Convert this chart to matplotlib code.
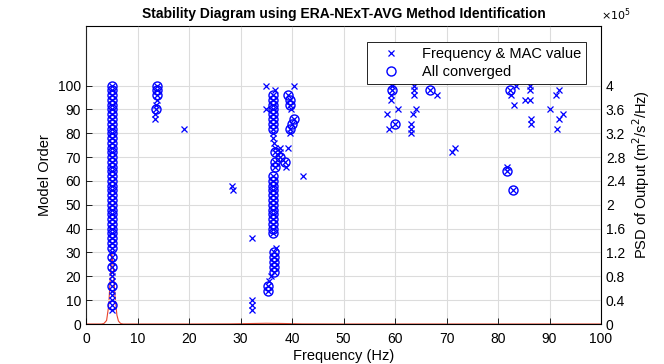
import numpy as np
import matplotlib
matplotlib.use('Agg')
import matplotlib.pyplot as plt
from matplotlib.ticker import FuncFormatter

plt.rcParams['font.family'] = ['Liberation Sans', 'DejaVu Sans']

# stabilisation points (frequency in Hz, model order) - all poles
freq_all = [
    # ~5 Hz mode
    5.1, 5.1, 5.0, 5.0, 5.0, 5.0, 5.0, 5.0, 5.0, 5.0, 5.0, 5.0, 5.0, 5.0, 5.0, 5.0,
    5.0, 5.0, 5.0, 5.0, 5.0, 5.0, 5.0, 5.0, 5.0, 5.0, 5.0, 5.0, 5.0, 5.0, 5.0, 5.0,
    5.0, 5.0, 5.0, 5.0, 5.0, 5.0, 5.0, 5.0, 5.0, 5.0, 5.0, 5.0, 5.0, 5.0, 5.0, 5.0,
    # ~13.6 Hz
    13.8, 13.8, 13.7, 13.7, 13.6, 13.5, 13.4, 13.4,
    # scattered
    19.0, 28.3, 28.5, 32.3, 32.3, 32.3, 32.3, 35.0, 34.9,
    # ~36.5 Hz column
    35.4, 35.4, 35.6, 35.9, 36.6, 36.6, 36.6, 36.6, 36.6, 36.9,
    36.4, 36.4, 36.4, 36.4, 36.4, 36.4, 36.4, 36.4, 36.4, 36.4, 36.4, 36.4, 36.4,
    36.7, 36.7, 36.7, 36.7, 36.6, 36.4, 36.4,
    36.4, 36.4, 36.4, 36.4, 36.4, 36.4, 36.4, 36.4, 36.7,
    37.7, 38.6, 37.7, 39.3, 38.8, 37.7,
    # ~39.5 Hz column
    39.3, 39.6, 39.6, 39.9, 40.3, 40.0, 39.6, 39.7, 40.3, 42.2,
    # 58-72 Hz
    59.4, 59.5, 59.3, 59.3, 63.7, 63.7, 63.7, 66.8, 68.1,
    58.5, 60.6, 64.1, 63.4, 60.0, 58.9, 63.1, 63.1, 63.1, 71.0, 71.7,
    # 80-93 Hz
    82.3, 82.6, 83.5, 83.1, 86.3, 86.3, 85.2, 86.2, 86.5, 86.5, 90.1,
    91.3, 91.8, 92.6, 91.9, 91.4, 81.8, 81.8, 82.9,
]
order_all = [
    6, 8, 10, 12, 14, 16, 18, 20, 22, 24, 26, 28, 30, 32, 34, 36,
    38, 40, 42, 44, 46, 48, 50, 52, 54, 56, 58, 60, 62, 64, 66, 68,
    70, 72, 74, 76, 78, 80, 82, 84, 86, 88, 90, 92, 94, 96, 98, 100,
    100, 98, 96, 94, 92, 90, 88, 86,
    82, 58, 56, 36, 10, 8, 6, 100, 90,
    14, 16, 18, 20, 22, 24, 26, 28, 30, 32,
    38, 40, 42, 44, 46, 48, 50, 52, 54, 56, 58, 60, 62,
    66, 68, 72, 74, 76, 78, 80,
    82, 84, 86, 88, 90, 92, 94, 96, 98,
    70, 68, 72, 74, 66, 74,
    96, 94, 92, 90, 86, 84, 82, 80, 100, 62,
    100, 98, 96, 94, 100, 98, 96, 98, 96,
    88, 90, 90, 88, 84, 82, 84, 82, 80, 72, 74,
    98, 96, 100, 92, 100, 98, 94, 94, 86, 84, 90,
    96, 98, 88, 86, 82, 64, 66, 56,
]

# converged (stable) poles
freq_conv = [
    5.0, 5.0, 5.0, 5.0, 5.0, 5.0, 5.0, 5.0, 5.0, 5.0, 5.0, 5.0, 5.0, 5.0, 5.0, 5.0,
    5.0, 5.0, 5.0, 5.0, 5.0, 5.0, 5.0, 5.0, 5.0, 5.0, 5.0, 5.0, 5.0, 5.0, 5.0, 5.0,
    5.0, 5.0, 5.0, 5.0, 5.0, 5.0, 5.0,
    13.8, 13.8, 13.7, 13.5,
    35.4, 35.4, 36.6, 36.6, 36.6, 36.6, 36.6,
    36.4, 36.4, 36.4, 36.4, 36.4, 36.4, 36.4, 36.4, 36.4, 36.4, 36.4, 36.4, 36.4,
    36.7, 36.7, 36.7, 37.7, 38.6,
    36.4, 36.4, 36.4, 36.4, 36.4, 36.4, 36.4, 36.4,
    39.3, 39.6, 39.6, 40.3, 40.0, 39.6,
    59.5, 66.8, 60.0, 82.3, 81.8, 82.9,
]
order_conv = [
    8, 16, 24, 32, 34, 36, 38, 40, 42, 44, 46, 48, 50, 54, 56, 58,
    60, 62, 64, 66, 68, 70, 72, 74, 76, 78, 80, 82, 84, 86, 88, 90,
    92, 94, 96, 98, 100, 52, 28,
    100, 98, 96, 90,
    14, 16, 22, 24, 26, 28, 30,
    38, 40, 42, 44, 46, 48, 50, 52, 54, 56, 58, 60, 62,
    66, 68, 72, 70, 68,
    82, 84, 86, 88, 90, 92, 94, 96,
    96, 94, 92, 86, 84, 82,
    98, 98, 84, 98, 64, 56,
]

# PSD of output (m^2/s^2/Hz)
psd_freq = [0, 3.0, 3.5, 4.0, 4.4, 4.7, 5.0, 5.3, 5.6, 6.0, 6.3, 6.7, 7.2, 8.0, 20, 28, 32, 35, 38, 42, 50, 100]
psd_val = [0, 0, 1e3, 6e3, 3.0e4, 7.5e4, 1.2e5, 9.5e4, 5.0e4, 1.5e4, 5e3, 1e3, 0, 0, 0, 2e2, 8e2, 1.2e3, 9e2, 2e2, 0, 0]

fig = plt.figure(figsize=(6.64, 3.64), dpi=100)
ax = fig.add_axes([86/664, 40/364, 515/664, 298/364])

ax2 = ax.twinx()
ax2.plot(psd_freq, psd_val, color='#e8432b', lw=0.8)
ax2.set_ylim(0, 5e5)
ax2.set_yticks(np.arange(0, 4.01e5, 0.4e5))
ax2.yaxis.set_major_formatter(FuncFormatter(lambda v, p: '%g' % round(v / 1e5, 1)))
ax2.set_ylabel('PSD of Output (m$^2$/s$^2$/Hz)', fontsize=10.5)
ax2.text(1.0, 1.01, r'$\times10^5$', transform=ax2.transAxes, ha='left', va='bottom', fontsize=8)
ax2.tick_params(direction='in', length=4, labelsize=10, width=0.6)

ax.set_zorder(ax2.get_zorder() + 1)
ax.patch.set_visible(False)
l1, = ax.plot(freq_all, order_all, 'x', color='b', ms=5, mew=0.9, label='Frequency & MAC value')
l2, = ax.plot(freq_conv, order_conv, 'o', color='b', mfc='none', ms=6.5, mew=1.0, label='All converged')

ax.set_xlim(0, 100)
ax.set_ylim(0, 125)
ax.set_xticks(np.arange(0, 101, 10))
ax.set_yticks(np.arange(0, 101, 10))
ax.grid(True, color='#dcdcdc', lw=0.8)
ax.set_axisbelow(True)
ax.tick_params(direction='in', length=4, labelsize=10, width=0.6)
ax.tick_params(axis='x', pad=6)
ax.set_xlabel('Frequency (Hz)', fontsize=10.5, labelpad=2)
ax.set_ylabel('Model Order', fontsize=10.5)
ax.set_title('Stability Diagram using ERA-NExT-AVG Method Identification', fontsize=10, fontweight='bold', pad=6)
for s in ax.spines.values():
    s.set_linewidth(0.6)

leg = ax.legend(handles=[l1, l2], loc='upper right', fontsize=10.5, frameon=True, fancybox=False,
                edgecolor='black', framealpha=1, borderpad=0.35, handlelength=2.6, handletextpad=0.8,
                labelspacing=0.25, bbox_to_anchor=(0.985, 0.97))
leg.get_frame().set_linewidth(0.6)

fig.savefig('out.png', dpi=100)
